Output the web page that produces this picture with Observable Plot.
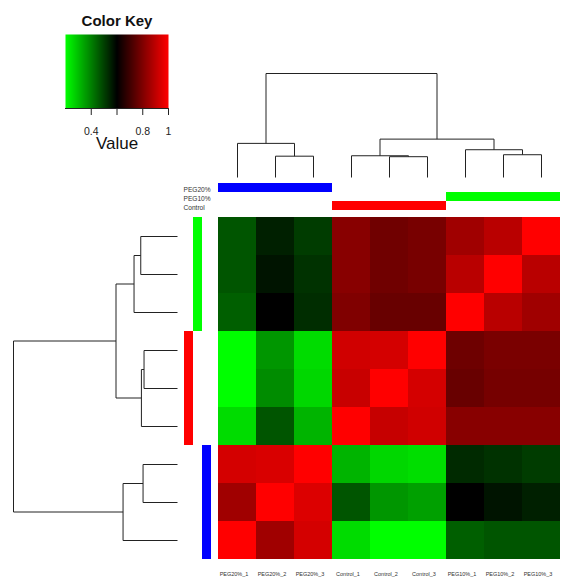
<!DOCTYPE html>
<html><head><meta charset="utf-8">
<script src="https://cdn.jsdelivr.net/npm/d3@7"></script>
<script src="https://cdn.jsdelivr.net/npm/@observablehq/plot@0.6"></script>
<style>
html,body{margin:0;padding:0;background:#fff;}
#chart{position:relative;width:573px;height:584px;overflow:hidden;}
#chart svg{position:absolute;left:0;top:0;}
</style></head><body><div id="chart"></div>
<script>
// ---- data ----
const columns = ["PEG20%_1","PEG20%_2","PEG20%_3","Control_1","Control_2","Control_3","PEG10%_1","PEG10%_2","PEG10%_3"];
const rows = ["PEG10%_3","PEG10%_2","PEG10%_1","Control_3","Control_2","Control_1","PEG20%_3","PEG20%_2","PEG20%_1"];
const values = [
  [0.467,0.550,0.506,0.813,0.776,0.788,0.851,0.890,1.000],
  [0.467,0.569,0.522,0.813,0.776,0.788,0.890,1.000,0.890],
  [0.451,0.600,0.529,0.800,0.763,0.763,1.000,0.890,0.851],
  [0.200,0.365,0.255,0.926,0.933,1.000,0.773,0.791,0.791],
  [0.200,0.380,0.263,0.914,1.000,0.933,0.763,0.785,0.785],
  [0.255,0.467,0.318,1.000,0.910,0.926,0.813,0.813,0.813],
  [0.933,0.940,1.000,0.318,0.263,0.252,0.534,0.522,0.506],
  [0.851,1.000,0.945,0.467,0.365,0.349,0.600,0.569,0.550],
  [1.000,0.851,0.933,0.255,0.200,0.200,0.451,0.467,0.467]
];
const groups = ["PEG20%","PEG10%","Control"];
const groupColors = ["#0000ff","#00ff00","#ff0000"];
const columnGroups = ["PEG20%","PEG20%","PEG20%","Control","Control","Control","PEG10%","PEG10%","PEG10%"];
const rowGroups = ["PEG10%","PEG10%","PEG10%","Control","Control","Control","PEG20%","PEG20%","PEG20%"];
const rowSideOrder = ["Control","PEG10%","PEG20%"];
// merges: [childA, childB, height]; leaves 0..8, new nodes numbered 9, 10, ...
const colMerges = [[1,2,0.205],[4,5,0.200],[3,10,0.209],[7,8,0.219],[6,12,0.267],[0,9,0.328],[11,13,0.369],[14,15,1.0]];
const rowMerges = [[0,1,0.224],[3,4,0.204],[6,7,0.210],[2,9,0.265],[5,10,0.220],[8,11,0.332],[12,13,0.375],[15,14,1.0]];
const keyDomain = [0.2,0.6,1];
const keyColors = ["#00ff00","#000000","#ff0000"];
const keyTicks = [0.4,0.6,0.8,1];
const keyTickLabels = ["0.4","","0.8","1"];

// ---- helpers ----
const FONT = '"Liberation Sans", Arial, Helvetica, sans-serif';
const common = {width:573, height:584, style:{background:"transparent", overflow:"visible", fontFamily:FONT, color:"#222"}};
const colorOpts = {type:"linear", domain:keyDomain, range:keyColors, interpolate:"rgb"};
function dendro(merges, n){
  const pos = d3.range(n), hgt = new Array(n).fill(0), segs = [];
  for (const [a,b,h] of merges){
    segs.push({p1:pos[a], h1:hgt[a], p2:pos[a], h2:h});
    segs.push({p1:pos[a], h1:h, p2:pos[b], h2:h});
    segs.push({p1:pos[b], h1:h, p2:pos[b], h2:hgt[b]});
    pos.push((pos[a]+pos[b])/2); hgt.push(h);
  }
  return segs;
}
const chart = document.getElementById("chart");
const add = p => chart.appendChild(p);

// heatmap
const cells = rows.flatMap((r,i)=>columns.map((c,j)=>({row:r, col:c, value:values[i][j]})));
add(Plot.plot({...common, marginLeft:218, marginRight:13, marginTop:217, marginBottom:25,
  x:{domain:columns, padding:0, axis:null}, y:{domain:rows, padding:0, axis:null},
  color:colorOpts,
  marks:[
    Plot.cell(cells,{x:"col", y:"row", fill:"value", inset:0}),
    Plot.text(columns,{x:d=>d, text:d=>d, frameAnchor:"bottom", dy:16, dx:-3.5, fontSize:5.5,
      fontFamily:'"Liberation Sans Narrow", "Liberation Sans", Arial, sans-serif', fill:"#333"})
  ]}));

// column dendrogram
add(Plot.plot({...common, marginLeft:218, marginRight:13, marginTop:73, marginBottom:407,
  x:{domain:[-0.5, columns.length-0.5], axis:null}, y:{domain:[0,1], axis:null},
  marks:[Plot.link(dendro(colMerges, columns.length),{x1:"p1", y1:"h1", x2:"p2", y2:"h2", stroke:"#222", strokeWidth:1})]}));

// row dendrogram
add(Plot.plot({...common, marginLeft:13, marginRight:396, marginTop:217, marginBottom:25,
  x:{domain:[0,1], reverse:true, axis:null}, y:{domain:[-0.5, rows.length-0.5], reverse:true, axis:null},
  marks:[Plot.link(dendro(rowMerges, rows.length),{x1:"h1", y1:"p1", x2:"h2", y2:"p2", stroke:"#222", strokeWidth:1})]}));

// column side colours
add(Plot.plot({...common, marginLeft:218, marginRight:13, marginTop:182, marginBottom:373,
  x:{domain:columns, padding:0, axis:null}, y:{domain:groups, padding:0, axis:null},
  color:{domain:groups, range:groupColors},
  marks:[
    Plot.cell(columns.map((c,i)=>({col:c, group:columnGroups[i]})),{x:"col", y:"group", fill:"group", inset:0}),
    Plot.text(groups,{y:d=>d, text:d=>d, frameAnchor:"left", textAnchor:"start", dx:-35, dy:1.5, fontSize:6.6, fill:"#333"})
  ]}));

// row side colours
add(Plot.plot({...common, marginLeft:183, marginRight:361, marginTop:217, marginBottom:25,
  x:{domain:rowSideOrder, padding:0, axis:null}, y:{domain:rows, padding:0, axis:null},
  color:{domain:groups, range:groupColors},
  marks:[Plot.cell(rows.map((r,i)=>({row:r, group:rowGroups[i]})),{x:"group", y:"row", fill:"group", inset:0})]}));

// colour key
add(Plot.plot({...common, style:{...common.style, fontSize:"10.5px"},
  marginLeft:65, marginRight:405, marginTop:34, marginBottom:476,
  x:{domain:[keyDomain[0], keyDomain[2]], ticks:keyTicks, tickFormat:d=>keyTickLabels[keyTicks.indexOf(d)], tickSize:7, tickPadding:12, label:null},
  y:{domain:[0,1], axis:null},
  color:colorOpts,
  marks:[
    Plot.raster({fill:(x,y)=>x, x1:keyDomain[0], x2:keyDomain[2], y1:0, y2:1, imageRendering:"auto"}),
    Plot.ruleY([0],{stroke:"#222"}),
    Plot.text(["Color Key"],{text:d=>d, frameAnchor:"top", lineAnchor:"bottom", dy:-8.3, fontSize:15, fontWeight:"bold", fill:"#111"}),
    Plot.text(["Value"],{text:d=>d, frameAnchor:"bottom", lineAnchor:"bottom", dy:40.7, fontSize:17, fill:"#111"})
  ]}));
</script></body></html>
